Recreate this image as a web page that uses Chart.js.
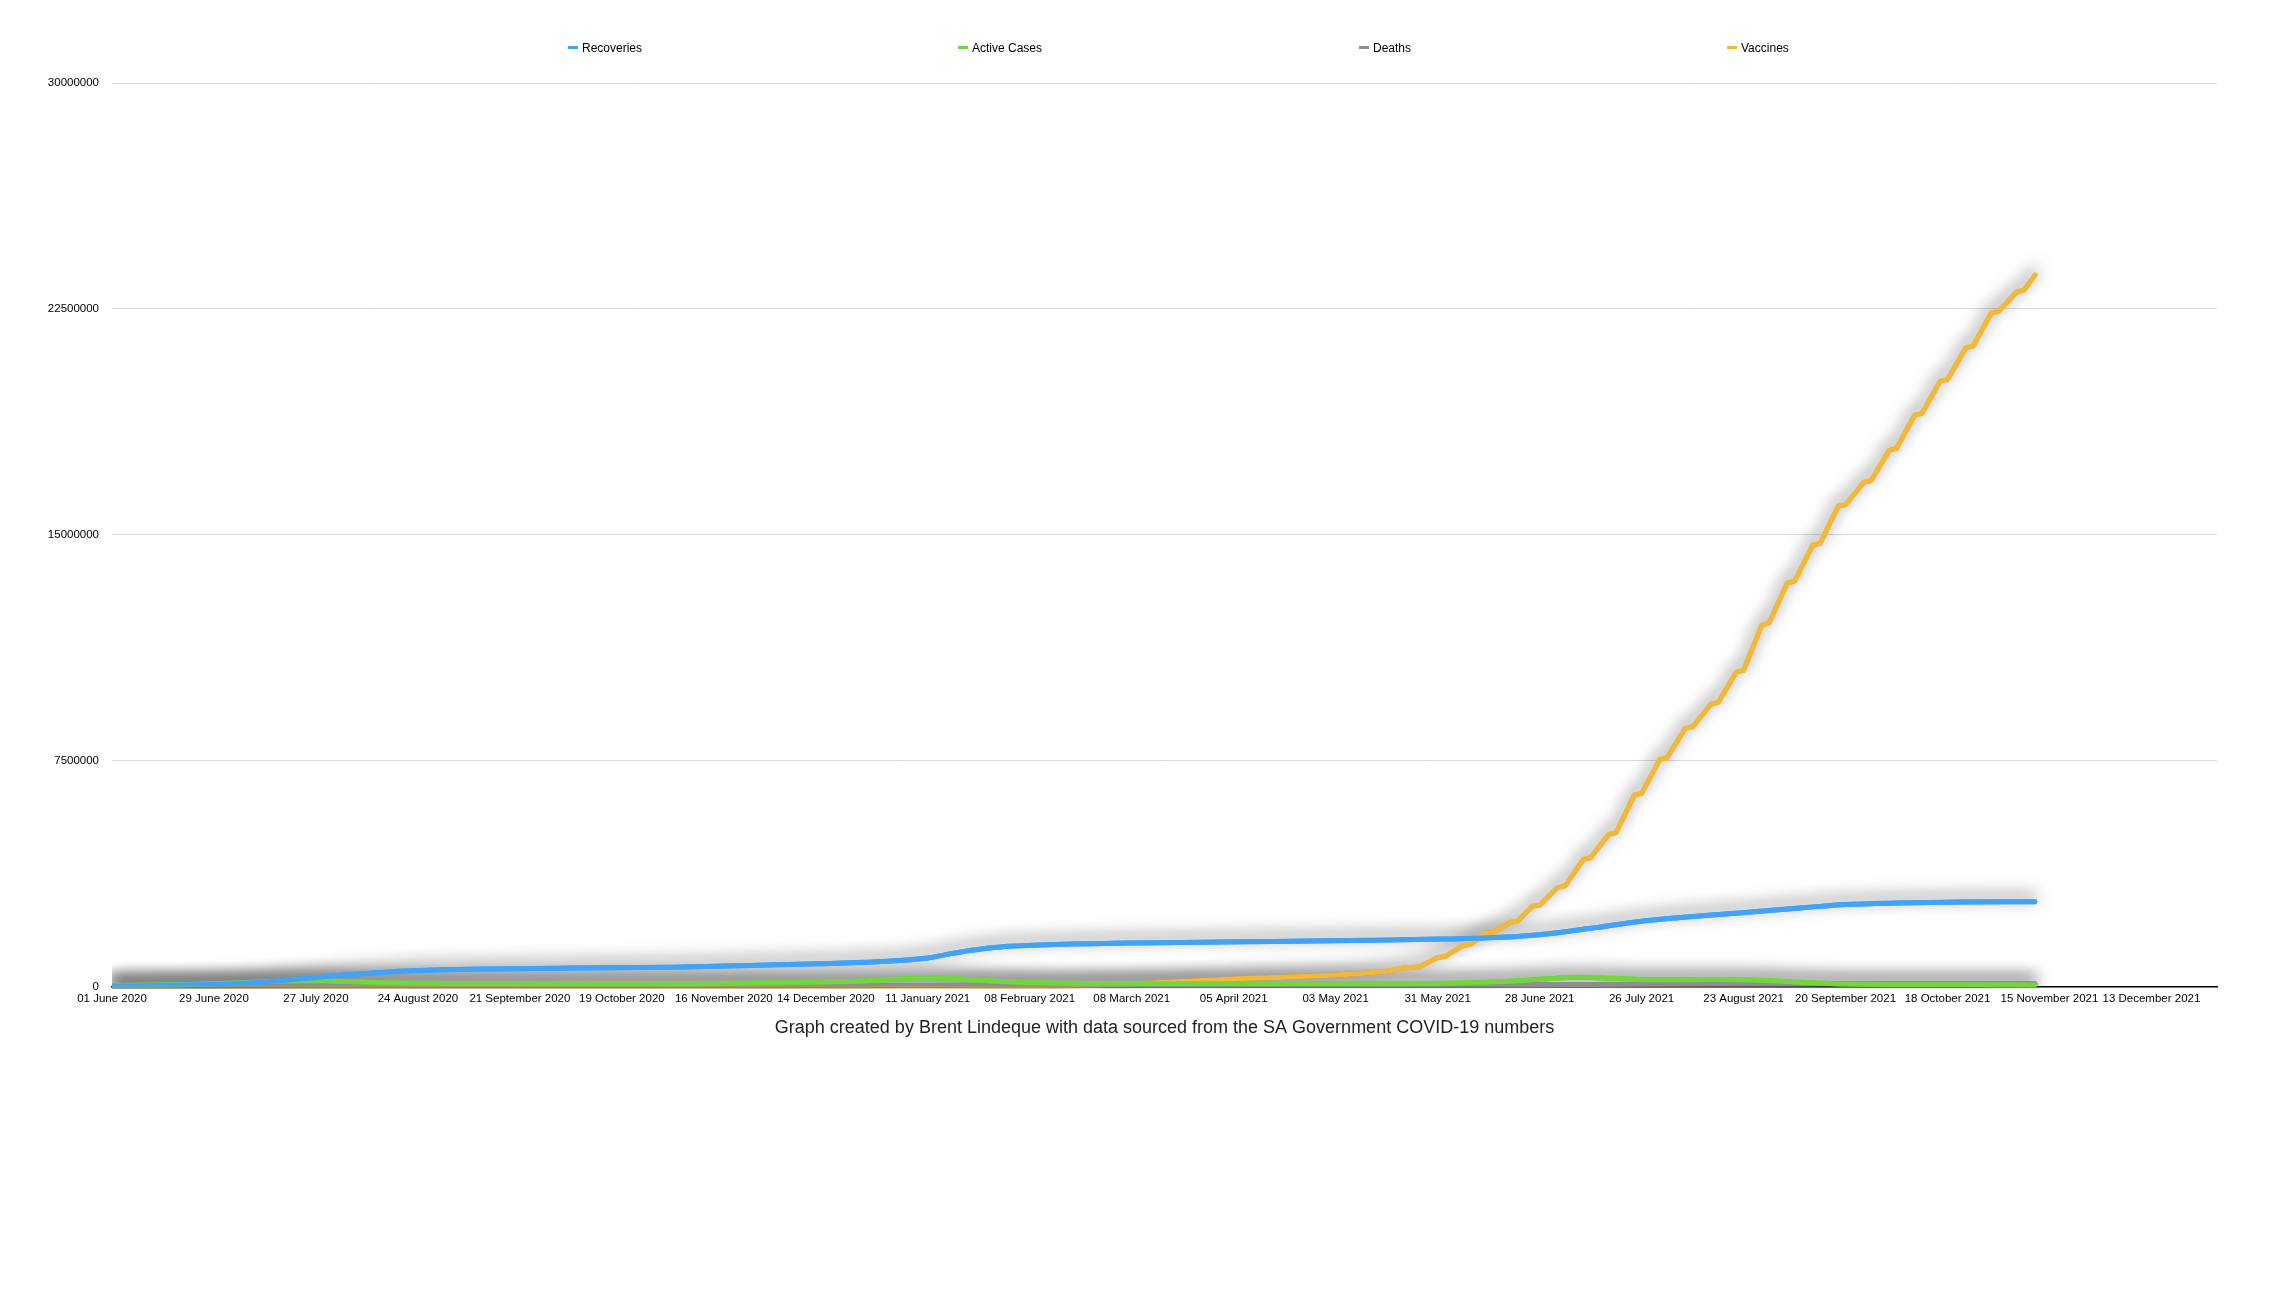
<!DOCTYPE html>
<html>
<head>
<meta charset="utf-8">
<script src="https://cdn.jsdelivr.net/npm/chart.js@4.4.1/dist/chart.umd.min.js"></script>
<style>
  html, body { margin: 0; padding: 0; background: #ffffff; }
  #wrap { position: relative; width: 2284px; height: 1300px; }
  canvas { position: absolute; left: 0; top: 0; }
  #legend { position: absolute; top: 40px; left: 0; width: 2284px; height: 16px;
            font-family: 'Liberation Sans', Arial, sans-serif; font-size: 12px; color: #000; }
  .item { position: absolute; top: 0; white-space: nowrap; line-height: 16px; }
  .mark { display: inline-block; width: 10px; height: 3px; vertical-align: middle; margin-right: 4px; position: relative; top: -1px; }
</style>
</head>
<body>
<div id="wrap">
  <canvas id="c" width="2284" height="1300"></canvas>
  <div id="legend"></div>
</div>
<script>
// ---- tick labels (every 28 days from 01 June 2020) ----
const xTickLabels = ["01 June 2020","29 June 2020","27 July 2020","24 August 2020","21 September 2020","19 October 2020","16 November 2020","14 December 2020","11 January 2021","08 February 2021","08 March 2021","05 April 2021","03 May 2021","31 May 2021","28 June 2021","26 July 2021","23 August 2021","20 September 2021","18 October 2021","15 November 2021","13 December 2021"];
const yTicks = [0, 7500000, 15000000, 22500000, 30000000];

// ---- series names & colours ----
const seriesNames = ["Recoveries", "Active Cases", "Deaths", "Vaccines"];
const seriesColors = ["#41a3f7", "#72d63f", "#8e8e8e", "#f1b93b"];

// ---- series (day = days since 01 June 2020) ----
const recoveriesDays   = [0, 14, 28, 42, 49, 56, 63, 70, 77, 91, 105, 127, 154, 175, 194, 210, 224, 230, 236, 244, 257, 280, 310, 345, 365, 380, 390, 398, 408, 419, 430, 450, 465, 476, 490, 508, 528];
const recoveriesValues = [10000, 40000, 70000, 150000, 220000, 290000, 370000, 430000, 490000, 550000, 580000, 610000, 640000, 690000, 750000, 820000, 940000, 1080000, 1200000, 1310000, 1380000, 1440000, 1480000, 1530000, 1570000, 1620000, 1700000, 1800000, 1960000, 2150000, 2280000, 2470000, 2620000, 2720000, 2770000, 2800000, 2810000];

const activeDays   = [0, 21, 35, 45, 52, 58, 65, 75, 91, 107, 130, 160, 180, 194, 210, 224, 230, 244, 257, 280, 320, 350, 370, 385, 395, 403, 412, 424, 440, 450, 462, 473, 500, 528];
const activeValues = [30000, 60000, 120000, 170000, 200000, 190000, 160000, 120000, 100000, 95000, 90000, 90000, 110000, 140000, 200000, 290000, 260000, 160000, 110000, 90000, 85000, 90000, 110000, 180000, 260000, 300000, 270000, 220000, 230000, 210000, 150000, 90000, 60000, 50000];

const deathsDays   = [0, 28, 56, 90, 120, 160, 194, 224, 252, 280, 336, 392, 420, 448, 476, 504, 528];
const deathsValues = [800, 2500, 7000, 14000, 17000, 20000, 23000, 33000, 46000, 50000, 54500, 60000, 70000, 80000, 86000, 89000, 89500];

const vaccinesDays   = [0, 259, 266, 273, 280, 294, 308, 322, 336, 343, 350, 355, 357, 359, 364, 366, 371, 373, 377, 379, 384, 386, 390, 392, 397, 399, 404, 406, 411, 413, 418, 420, 425, 427, 432, 434, 439, 441, 446, 448, 453, 455, 460, 462, 467, 469, 474, 476, 481, 483, 488, 490, 495, 497, 502, 504, 509, 511, 516, 518, 523, 525, 528];
const vaccinesValues = [0, 0, 20000, 60000, 80000, 160000, 250000, 300000, 380000, 430000, 500000, 620000, 630000, 650000, 960000, 990000, 1360000, 1400000, 1760000, 1790000, 2130000, 2170000, 2660000, 2700000, 3290000, 3340000, 4220000, 4270000, 5050000, 5110000, 6350000, 6410000, 7540000, 7600000, 8570000, 8620000, 9370000, 9430000, 10430000, 10500000, 12000000, 12070000, 13400000, 13460000, 14650000, 14710000, 15950000, 16000000, 16740000, 16800000, 17800000, 17870000, 18970000, 19030000, 20100000, 20150000, 21200000, 21260000, 22360000, 22420000, 23060000, 23120000, 23620000];

const caption = "Graph created by Brent Lindeque with data sourced from the SA Government COVID-19 numbers";

// ---- build ----
function pts(days, vals) { return days.map((d, i) => ({ x: d, y: vals[i] })); }
const allSeries = [
  pts(recoveriesDays, recoveriesValues),
  pts(activeDays, activeValues),
  pts(deathsDays, deathsValues),
  pts(vaccinesDays, vaccinesValues)
];
const smooth = [true, true, true, false];

const datasets = seriesNames.map((name, i) => ({
  label: name,
  data: allSeries[i],
  borderColor: seriesColors[i],
  backgroundColor: seriesColors[i],
  borderWidth: 5,
  pointRadius: 0,
  pointHoverRadius: 0,
  tension: smooth[i] ? 0.35 : 0,
  cubicInterpolationMode: smooth[i] ? 'monotone' : 'default',
  borderJoinStyle: 'round',
  borderCapStyle: 'round',
  fill: false
}));

// Shadow pass: draw all lines once with a blurred shadow underneath, then the
// normal dataset draw paints the crisp lines on top of every shadow.
const shadowPlugin = {
  id: 'lineShadow',
  beforeDatasetsDraw(chart) {
    const ctx = chart.ctx;
    const area = chart.chartArea;
    ctx.save();
    ctx.beginPath();
    ctx.rect(area.left, area.top - 20, area.right - area.left, area.bottom - area.top + 22);
    ctx.clip();
    ctx.shadowColor = 'rgba(0,0,0,0.6)';
    ctx.shadowBlur = 16;
    ctx.shadowOffsetX = 0;
    ctx.shadowOffsetY = -5;
    const metas = chart.getSortedVisibleDatasetMetas();
    for (let i = metas.length - 1; i >= 0; i--) {
      metas[i].controller.draw();
    }
    ctx.restore();
  }
};

const FONT = "'Liberation Sans', Arial, Helvetica, sans-serif";

new Chart(document.getElementById('c'), {
  type: 'line',
  data: { datasets },
  options: {
    responsive: false,
    animation: false,
    events: [],
    layout: { padding: { left: 0, right: 67, top: 83, bottom: 253 } },
    plugins: {
      legend: { display: false },
      tooltip: { enabled: false },
      title: {
        display: true,
        position: 'bottom',
        fullSize: false,
        text: caption,
        color: '#222',
        font: { family: FONT, size: 18, weight: 'normal', lineHeight: 1.2 },
        padding: { top: 5, bottom: 8 }
      }
    },
    scales: {
      x: {
        type: 'linear',
        min: 0,
        max: 578,
        grid: { display: false, drawTicks: false },
        border: { display: true, color: '#000', width: 1.5 },
        ticks: {
          stepSize: 28,
          includeBounds: false,
          autoSkip: false,
          maxRotation: 0,
          minRotation: 0,
          padding: 6,
          color: '#000',
          font: { family: FONT, size: 11.5 },
          callback: (v) => { const k = Math.round(v / 28); return (v % 28 === 0 && xTickLabels[k]) ? xTickLabels[k] : ''; }
        },
        afterFit: (s) => { s.height = 26; }
      },
      y: {
        type: 'linear',
        min: yTicks[0],
        max: yTicks[yTicks.length - 1],
        grid: { color: '#d8d8d8', lineWidth: 1, drawTicks: false },
        border: { display: false },
        afterBuildTicks: (s) => { s.ticks = yTicks.map(v => ({ value: v })); },
        ticks: {
          padding: 13,
          color: '#000',
          font: { family: FONT, size: 11.5 },
          callback: (v) => String(v)
        },
        afterFit: (s) => { s.width = 112; }
      }
    }
  },
  plugins: [shadowPlugin]
});

// ---- HTML legend ----
const legendX = [568, 958, 1359, 1727];
const leg = document.getElementById('legend');
seriesNames.forEach((name, i) => {
  const d = document.createElement('div');
  d.className = 'item';
  d.style.left = legendX[i] + 'px';
  const m = document.createElement('span');
  m.className = 'mark';
  m.style.background = seriesColors[i];
  d.appendChild(m);
  d.appendChild(document.createTextNode(name));
  leg.appendChild(d);
});
</script>
</body>
</html>
